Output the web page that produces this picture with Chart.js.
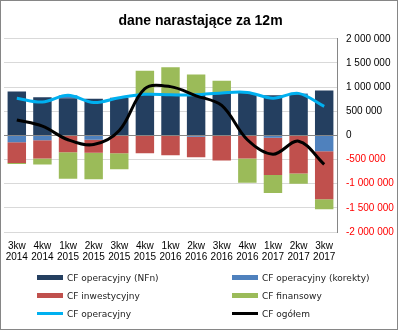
<!DOCTYPE html>
<html>
<head>
<meta charset="utf-8">
<script src="https://cdn.jsdelivr.net/npm/chart.js@4/dist/chart.umd.min.js"></script>
<style>
  body { margin: 0; background: #fff; }
  #wrap { position: relative; width: 398px; height: 330px; box-sizing: border-box; border: 1px solid #868686; background: #fff; }
  #chart { position: absolute; left: 0; top: 0; }
  #legend { position: absolute; left: 36px; top: 270px; display: grid; grid-template-columns: 195px 150px; row-gap: 5px;
            font-family: "DejaVu Sans", sans-serif; font-size: 9px; color: #222; }
  .item { display: flex; align-items: center; height: 13px; white-space: nowrap; }
  .sw { width: 26px; margin-right: 4px; }
</style>
</head>
<body>
<div id="wrap">
  <canvas id="chart" width="396" height="328"></canvas>
  <div id="legend"></div>
</div>
<script>
// quarters
const labels = [
  ["3kw", "2014"], ["4kw", "2014"], ["1kw", "2015"], ["2kw", "2015"], ["3kw", "2015"],
  ["4kw", "2015"], ["1kw", "2016"], ["2kw", "2016"], ["3kw", "2016"], ["4kw", "2016"],
  ["1kw", "2017"], ["2kw", "2017"], ["3kw", "2017"],
];

// values (zł)
const cfOperNFn   = [910000, 790000, 770000, 760000, 780000, 850000, 860000, 860000, 880000, 880000, 830000, 850000, 930000];
const cfOperKor   = [-140000, -100000, 60000, -90000, 0, 0, 0, -30000, 0, 0, -50000, 20000, -330000];
const cfInwest    = [-430000, -380000, -350000, -270000, -370000, -370000, -410000, -420000, -520000, -480000, -770000, -790000, -990000];
const cfFinans    = [-20000, -120000, -550000, -550000, -330000, 490000, 550000, 400000, 250000, -500000, -370000, -210000, -210000];
const cfOperacyjny = [770000, 690000, 830000, 680000, 780000, 850000, 840000, 840000, 880000, 890000, 770000, 870000, 600000];
const cfOgolem    = [320000, 190000, -90000, -190000, 100000, 970000, 1010000, 820000, 620000, -90000, -390000, -120000, -600000];

const yTicks = { min: -2000000, max: 2000000, step: 500000 };

function fmt(v) {
  const s = String(Math.abs(v)).replace(/\B(?=(\d{3})+(?!\d))/g, " ");
  return (v < 0 ? "-" : "") + s;
}

function bar(label, data, color) {
  return { type: "bar", label, data, backgroundColor: color, order: 2, barPercentage: 0.72, categoryPercentage: 1 };
}

// zero line drawn over the bars, under the lines
const zeroLine = {
  id: "zeroLine",
  afterDatasetDraw(chart, args) {
    if (args.index !== 0) return;
    const { ctx, chartArea, scales } = chart;
    const y = Math.round(scales.y.getPixelForValue(0)) + 0.5;
    ctx.save();
    ctx.strokeStyle = "#868686";
    ctx.lineWidth = 1;
    ctx.beginPath();
    ctx.moveTo(chartArea.left, y);
    ctx.lineTo(chartArea.right, y);
    ctx.stroke();
    ctx.restore();
  },
};

const chart = new Chart(document.getElementById("chart"), {
  data: {
    labels,
    datasets: [
      bar("CF operacyjny (NFn)", cfOperNFn, "#243F60"),
      bar("CF operacyjny (korekty)", cfOperKor, "#4F81BD"),
      bar("CF inwestycyjny", cfInwest, "#C0504D"),
      bar("CF finansowy", cfFinans, "#9BBB59"),
      { type: "line", label: "CF operacyjny", data: cfOperacyjny, borderColor: "#00B0F0", borderWidth: 3,
        pointRadius: 0, tension: 0.35, stack: "op", order: 1 },
      { type: "line", label: "CF ogółem", data: cfOgolem, borderColor: "#000000", borderWidth: 3,
        pointRadius: 0, tension: 0.35, stack: "total", order: 0 },
    ],
  },
  options: {
    responsive: false,
    animation: false,
    layout: { padding: { left: 3, right: 0, bottom: 66 } },
    plugins: {
      legend: { display: false },
      tooltip: { enabled: false },
      title: {
        display: true,
        text: "dane narastające za 12m",
        color: "#000",
        font: { family: "'Liberation Sans', Arial, sans-serif", size: 14, weight: "bold" },
        padding: { top: 12, bottom: 9 },
      },
    },
    scales: {
      x: {
        stacked: true,
        grid: { display: false },
        border: { display: false },
        ticks: {
          color: "#000",
          font: { family: "'Liberation Sans', Arial, sans-serif", size: 10, lineHeight: 1.15 },
          maxRotation: 0, minRotation: 0, autoSkip: false, padding: 0,
        },
      },
      y: {
        stacked: true,
        position: "right",
        min: yTicks.min, max: yTicks.max,
        afterFit(axis) { axis.width = 60; },
        grid: {
          color: ctx => (ctx.tick && ctx.tick.value === 0 ? "#868686" : "#D9D9D9"),
          drawTicks: false,
        },
        border: { display: true, color: "#868686" },
        ticks: {
          stepSize: yTicks.step,
          padding: 9,
          color: ctx => (ctx.tick && ctx.tick.value < 0 ? "#FF0000" : "#000"),
          font: { family: "'Liberation Sans', Arial, sans-serif", size: 10 },
          callback: v => fmt(v),
        },
      },
    },
  },
  plugins: [zeroLine],
});

// two-column legend like the original
const legend = document.getElementById("legend");
chart.data.datasets.forEach(ds => {
  const isLine = ds.type === "line";
  const item = document.createElement("div");
  item.className = "item";
  const sw = document.createElement("span");
  sw.className = "sw";
  sw.style.height = isLine ? "3px" : "5px";
  sw.style.background = isLine ? ds.borderColor : ds.backgroundColor;
  item.appendChild(sw);
  item.appendChild(document.createTextNode(ds.label));
  legend.appendChild(item);
});
</script>
</body>
</html>
